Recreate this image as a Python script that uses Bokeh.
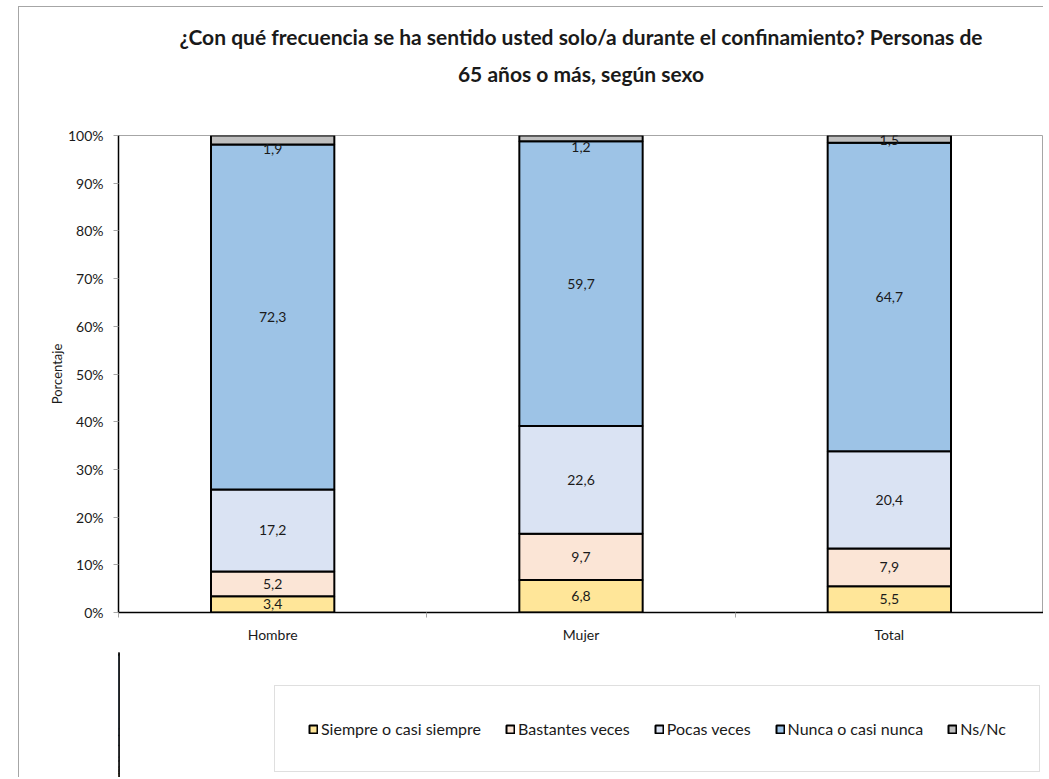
from bokeh.plotting import figure
from bokeh.layouts import column
from bokeh.models import (ColumnDataSource, Range1d, FixedTicker, PrintfTickFormatter,
                          Legend, LegendItem, Title)
from bokeh.core.properties import value
from bokeh.embed import file_html
from bokeh.resources import INLINE

categories = ["Hombre", "Mujer", "Total"]
series = ["Siempre o casi siempre", "Bastantes veces", "Pocas veces", "Nunca o casi nunca", "Ns/Nc"]
siempre = [3.4, 6.8, 5.5]
bastantes = [5.2, 9.7, 7.9]
pocas = [17.2, 22.6, 20.4]
nunca = [72.3, 59.7, 64.7]
nsnc = [1.9, 1.2, 1.5]
y_ticks = [0, 10, 20, 30, 40, 50, 60, 70, 80, 90, 100]

title_lines = ["¿Con qué frecuencia se ha sentido usted solo/a durante el confinamiento? Personas de",
               "65 años o más, según sexo"]

colors = ["#FFE699", "#FBE5D6", "#DAE3F3", "#9DC3E6", "#BFBFBF"]
# pixel nudges for the top (Ns/Nc) labels, as placed in the original
top_label_nudge = [9, 9, 1]

FONT = "Lato"
TXT = "#1a1a1a"

fig = figure(frame_width=925, frame_height=477, output_backend="svg", toolbar_location=None,
             x_range=Range1d(0, len(categories)), y_range=Range1d(0, 100),
             min_border_left=99, min_border_right=0, min_border_top=128, min_border_bottom=40)
fig.background_fill_color = "white"
fig.border_fill_color = "white"
fig.outline_line_color = "#A6A6A6"
fig.outline_line_width = 1
fig.xgrid.visible = False
fig.ygrid.visible = False

xs = [i + 0.5 for i in range(len(categories))]
values = [siempre, bastantes, pocas, nunca, nsnc]
data = {"x": xs}
for name, vals in zip(series, values):
    data[name] = vals
src = ColumnDataSource(data)

fig.vbar_stack(series, x="x", width=0.4, source=src, fill_color=colors,
               line_color="#000000", line_width=2)

# data labels
lab_x, lab_y, lab_t, lab_off = [], [], [], []
for ci in range(len(categories)):
    cum = 0.0
    for si, vals in enumerate(values):
        v = vals[ci]
        lab_x.append(xs[ci])
        lab_y.append(cum + v / 2)
        lab_t.append(f"{v:.1f}".replace(".", ","))
        lab_off.append(top_label_nudge[ci] if si == len(values) - 1 else 0)
        cum += v
lsrc = ColumnDataSource(dict(x=lab_x, y=lab_y, t=lab_t, off=lab_off))
fig.text(x="x", y="y", text="t", y_offset="off", source=lsrc, text_align="center",
         text_baseline="middle", text_font=value(FONT), text_font_size="14px", text_color=TXT)

# y axis
yax = fig.yaxis[0]
yax.ticker = FixedTicker(ticks=y_ticks)
yax.formatter = PrintfTickFormatter(format="%d%%")
yax.axis_line_color = "#000000"
yax.axis_line_width = 1.5
yax.major_tick_in = 0
yax.major_tick_out = 5
yax.major_tick_line_color = "#A6A6A6"
yax.minor_tick_line_color = None
yax.major_label_standoff = 10
yax.major_label_text_font = FONT
yax.major_label_text_font_size = "14px"
yax.major_label_text_color = TXT
yax.axis_label = "Porcentaje"
yax.axis_label_text_font = FONT
yax.axis_label_text_font_size = "13px"
yax.axis_label_text_font_style = "normal"
yax.axis_label_text_color = TXT
yax.axis_label_standoff = 0

# x axis
xax = fig.xaxis[0]
xax.ticker = FixedTicker(ticks=xs, minor_ticks=list(range(len(categories) + 1)))
xax.major_label_overrides = {x: c for x, c in zip(xs, categories)}
xax.axis_line_color = "#000000"
xax.axis_line_width = 1.5
xax.major_tick_in = 0
xax.major_tick_out = 0
xax.minor_tick_in = 0
xax.minor_tick_out = 5
xax.minor_tick_line_color = "#A6A6A6"
xax.major_label_standoff = 8
xax.major_label_text_font = FONT
xax.major_label_text_font_size = "14px"
xax.major_label_text_color = TXT

# title (spacer closest to the frame, then the two title lines, bottom one first)
fig.add_layout(Title(text=" ", text_font=FONT, text_font_size="27px"), "above")
for line in reversed(title_lines):
    fig.add_layout(Title(text=line, align="center", text_font=FONT,
                         text_font_size="21px", text_font_style="bold", text_color=TXT), "above")

# legend strip: a second figure whose frame holds the legend
lf = figure(width=1024, height=125, output_backend="svg", toolbar_location=None,
            x_range=Range1d(100, 101), y_range=Range1d(0, 100),
            x_axis_type=None, y_axis_type=None,
            min_border_left=0, min_border_right=0, min_border_top=0, min_border_bottom=0)
lf.background_fill_color = "white"
lf.border_fill_color = "white"
lf.outline_line_color = None
lf.xgrid.visible = False
lf.ygrid.visible = False
leg_renderers = lf.vbar_stack(series, x="x", width=0.4, source=src, fill_color=colors,
                              line_color="#000000", line_width=2)
items = [LegendItem(label=s, renderers=[r]) for s, r in zip(series, leg_renderers)]
legend = Legend(items=items, orientation="horizontal", location=(156, 5),
                label_text_font=FONT, label_text_font_size="16px", label_text_color=TXT,
                glyph_width=10, glyph_height=10, label_standoff=3, spacing=24,
                padding=33, margin=0, border_line_color="#BFBFBF", border_line_width=1,
                background_fill_color="white", background_fill_alpha=1)
lf.add_layout(legend, "center")

p = column(fig, lf, spacing=0, margin=(6, 0, 0, 18),
           styles={"border-top": "1px solid #A6A6A6", "border-left": "1px solid #A6A6A6"})

open("out.html", "w").write(file_html(p, INLINE))
